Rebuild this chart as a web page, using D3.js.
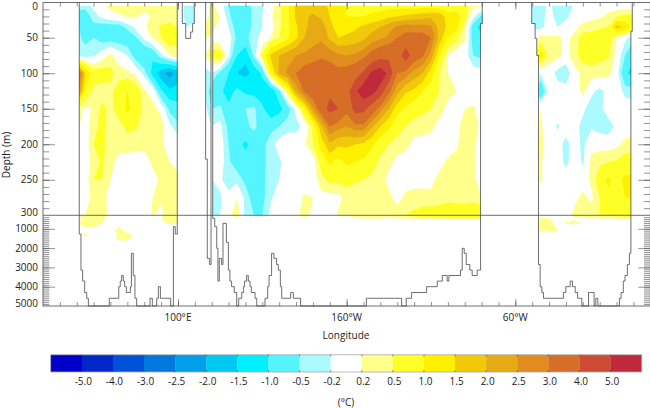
<!DOCTYPE html>
<html><head><meta charset="utf-8">
<script src="https://cdn.jsdelivr.net/npm/d3@7"></script>
<style>html,body{margin:0;padding:0;background:#fff}svg{display:block}text{font-family:"Open Sans",sans-serif;fill:#222}</style>
</head><body><div id="c"></div>
<script>
const lons = [40,45,50,55,60,65,70,75,80,85,90,95,100,105,110,115,120,125,130,135,140,145,150,155,160,165,170,175,180,185,190,195,200,205,210,215,220,225,230,235,240,245,250,255,260,265,270,275,280,285,290,295,300,305,310,315,320,325,330,335,340,345,350,355,360,365,370];
const depths = [5,20,35,50,75,100,125,150,175,200,225,250,275,300,500,700,900,1100,1300,1500,1700,2000];
const t5 = [-.4,-.4,-.1,.15,.3,.35,.35,.35,.35,.35,.4,.4,.4, -.45,-.3,0, .3,0,-.5,-.8,-.7,-.4,-.25,.1,.4,.9,1.6,1.9,1.7,1.7, 1.4,1.2,.95,.9,.8,.8,.8,.8,.8,.8,.75,.8,.8,.7,.7,.7,.6,.3,.2, .2,0,0,0,-.3, -.3,-.4,-.1,-.4,-.4,-.15,0,-.05,0,0,0,0,0];
const t20 = [-.6,-.7,-.35,-.1,.05,.15,.25,.25,.1,.25,.35,.35,.3, -.45,-.3,0, .3,.2,-.4,-.8,-.75,-.4,-.2,.15,.4,.9,1.6,1.9,2.1,1.9, 1.5,1.2,1,1,1,1.1,1.2,1.4,1.5,1.6,1.7,1.8,1.9,1.9,1.2,1.3,.7,-.1,-.6, -.6,0,0,0,-.3, -.3,-.35,-.05,-.35,-.3,0,.05,.1,.15,.3,.5,.6,.6];
const t35 = [-.4,-.7,-.6,-.7,-.7,-.7,-.4,-.1,.15,.35,.55,.6,.5, -.2,-.1,.3, .4,-.05,-.2,-.7,-.7,-.4,-.2,.1,.4,.9,1.4,1.9,2.2,2.3, 1.7,1.2,1.3,1.4,1.6,1.8,2,2.3,2.6,2.8,2.7,2.7,2.6,1.8,1.4,1.2,.35,-.7,-1.3, -1.3,0,0,0,-.3, -.3,-.3,-.05,-.2,0,.1,.3,.35,.4,.5,1.7,1.4,.8];
const t50 = [-.4,-.6,-.5,-.7,-.7,-.75,-.8,-.55,-.1,.25,.5,.75,.6, 0,0,.3, .1,-.1,0,-.6,-.6,-.3,-.1,.2,.5,.9,1.4,2,2.3,2.4, 1.9,1.5,1.6,1.7,1.9,2.2,2.4,2.6,3,3.2,3.3,3.3,3,1.8,1,.6,.25,-.7,-.9, -.9,0,0,0,0, 0,.3,.25,.3,.1,.3,.7,.7,1,.75,.2,-.1,-.4];
const t75 = [-.3,-.35,-.25,0,.3,0,-.2,-.7,-1,-.9,-.3,.2,.4, 0,0,0, .7,.8,-.1,-1,-1.4,-.4,.6,1.6,2,2.3,2.5,2.6,2.7,2.9, 2.8,2.6,2.5,2.6,2.8,3.3,3.6,3.7,3.4,4.6,3.4,3.1,2.3,1,.2,0,0,-.5,-.6, -.6,0,0,0,0, 0,1.3,.35,.3,.1,.35,.7,.7,.6,.55,.1,-.5,-.9];
const t100 = [4,1.5,.7,.7,.6,.35,.3,.1,-.3,-1.2,-1.8,-2.2,-1.8, 0,0,-.3, -.2,-.6,-1,-1.5,-1.6,-1.4,-.9,.9,2.1,2.6,3,3.3,3.5,3.5, 3.4,3.2,3.3,3.5,4.2,5.2,5.6,4.8,3,2.8,2.3,2,1.2,.5,.2,0,0,0,-.05, -.05,0,0,0,0, 0,-.2,.05,-.35,-.5,.1,.25,.35,.35,.3,0,-.9,-1.2];
const t125 = [3,1,.4,.35,.4,.7,1,.8,.25,.05,-.9,-1.4,-1.3, 0,0,0, -.8,-.9,-1.2,-.9,-1.1,-1.2,-1.3,-1.4,-.6,.6,2.2,3.1,3.6,3.8, 3.8,3.6,3.6,4.8,5.6,5.4,4.6,3.2,2.2,1.6,1.4,1,.8,.5,.3,.2,0,0,0, 0,0,0,0,0, 0,-1,0,0,0,0,.3,-.1,-.3,-.1,0,-.3,-.4];
const t150 = [.5,.1,.25,.6,.4,.7,1.1,.8,.4,.3,.1,-.6,-.8, 0,0,0, -.5,-.4,-.9,-.7,-.5,-.4,-.9,-1.4,-1.2,-.7,-.1,1,2.4,3.5, 4.3,4,3.2,4.4,4.3,3.5,2.7,2,1.2,.9,.7,.6,.5,.35,.1,.1,.2,.25,.05, .05,0,0,0,0, 0,.2,0,0,0,0,-.1,-.4,-.3,0,0,0,0];
const t175 = [.3,0,.4,.6,.35,.35,.6,.55,.35,.45,.35,-.1,-.4, 0,0,.2, -.2,-.1,-.6,-.9,-.6,-.4,-.7,-.6,-.5,-.3,-.3,-.1,.6,1.9, 3,2.7,2.5,2.8,2.8,2.1,1.5,1.1,.7,.5,.35,.3,.3,.05,.05,.1,.35,.35,.1, .1,0,0,0,0, 0,.25,0,-.25,0,0,-.35,-.25,-.35,-.4,-.1,0,0];
const t200 = [.25,0,.5,.6,.35,.3,.35,.3,.3,.35,.25,.1,0, 0,0,.25, 0,0,-.5,-.8,-1.1,-.8,-.6,-.35,-.05,0,0,.15,.5,1.2, 1.9,1.6,1.6,1.5,1.4,1.1,.7,.5,.35,.3,.1,.1,0,0,.05,.15,.35,.35,-.1, -.1,0,0,0,0, 0,.3,0,0,-.35,0,-.3,.1,.05,.05,.1,.3,.35];
const t225 = [0,0,.35,.55,.3,.1,.05,.05,.05,.25,.3,.2,.1, 0,0,0, -.1,0,-.45,-.7,-.8,-.7,-.6,-.35,-.25,-.05,0,.1,0,.7, 1.1,.8,1.1,1,.9,.7,.4,.3,.1,.05,.05,0,0,.1,.25,.3,.3,.3,-.2, -.2,0,0,0,0, 0,.25,0,0,-.3,0,-.25,.3,.45,.5,.55,.7,.7];
const t250 = [0,0,.5,.5,.2,0,0,0,0,.1,.25,.2,.3, 0,0,0, -.2,-.1,-.5,-.3,-.6,-.7,-.6,-.3,-.2,0,0,0,0,.4, .6,.6,.65,.55,.5,.4,.35,.1,0,0,.1,.1,.1,.3,.3,.3,.3,.35,-.1, -.1,0,0,0,0, 0,.25,0,0,0,0,0,.3,.7,1.1,.8,1.1,1.1];
const t275 = [.05,.05,.3,.3,.1,0,0,0,0,.2,.25,.45,.3, 0,0,0, -.2,-.25,0,.2,-.3,-.7,-.6,-.25,0,0,.05,.25,.2,.1, .05,.1,.3,.3,.25,.25,.3,.3,.05,.3,.3,.3,.3,.3,.35,.3,.3,.35,.2, .2,0,0,0,0, 0,0,0,0,0,.1,.3,.1,.5,.9,.8,1,1];
const t300 = [.2,.2,.4,.35,.1,0,0,0,0,.25,.1,.5,.5, 0,0,0, -.25,-.2,.1,.4,-.3,-.5,-.5,-.1,0,0,.1,.35,.1,.1, 0,.25,.2,.4,.45,.5,.5,.25,.4,.5,.6,.7,.7,.8,.9,.9,.9,.9,.9, .9,0,0,0,0, .1,.1,0,0,0,.3,.3,.45,.5,.5,.6,.7,.7];
const t500 = [.1,.25,.35,.3,0,0,0,0,0,0,.2,.4,.4, 0,0,0, 0,0,0,0,0,0,0,0,0,0,0,0,0,0, 0,0,0,.1,.15,.15,.15,.15,.15,.15,.15,.15,.15,.15,.15,.15,.15,.15,.15, .15,0,0,0,0, 0,.3,.25,.05,.1,.15,.15,.15,.15,.15,.15,.15,.15];
const t700 = [.2,.35,.35,.2,0,0,0,0,0,0,0,.3,.3, 0,0,0, 0,0,0,0,0,0,0,0,0,0,0,0,0,0, 0,0,0,0,0,0,0,0,0,0,0,0,0,0,0,0,0,0,0, 0,0,0,0,0, 0,.35,.3,.1,.25,.3,.2,0,0,0,0,0,0];
const t900 = [0,.2,.25,0,0,.2,.1,0,0,0,0,0,0, 0,0,0, 0,0,0,0,0,0,0,0,0,0,0,0,0,0, 0,0,0,0,0,0,0,0,0,0,0,0,0,0,0,0,0,0,0, 0,0,0,0,0, 0,.35,.35,.15,0,0,0,0,0,0,0,0,0];
const t1100 = [0,0,0,0,.1,.3,.1,0,0,0,0,0,0, 0,0,0, 0,0,0,0,0,0,0,0,0,0,0,0,0,0, 0,0,0,0,0,0,0,0,0,0,0,0,0,0,0,0,0,0,0, 0,0,0,0,0, 0,.3,.25,.2,0,0,0,0,0,0,0,0,0];
const t1300 = [0,.3,0,0,0,.25,.3,.1,0,0,0,0,0, 0,0,0, 0,0,0,0,0,0,0,0,0,0,0,0,0,0, 0,0,0,0,0,0,0,0,0,0,0,0,0,0,0,0,0,0,0, 0,0,0,0,0, 0,0,0,0,0,0,0,0,0,0,0,0,0];
const t1500 = [0,0,0,0,0,.3,.3,0,0,0,0,0,0, 0,0,0, 0,0,0,0,0,0,0,0,0,0,0,0,0,0, 0,0,0,0,0,0,0,0,0,0,0,0,0,0,0,0,0,0,0, 0,0,0,0,0, 0,0,0,0,0,0,0,0,0,0,0,0,0];
const t1700 = [0,0,0,0,0,.1,.1,0,0,0,0,0,0, 0,0,0, 0,0,0,0,0,0,0,0,0,0,0,0,0,0, 0,0,0,0,0,0,0,0,0,0,0,0,0,0,0,0,0,0,0, 0,0,0,0,0, 0,0,0,0,0,0,0,0,0,0,0,0,0];
const t2000 = [0,0,0,0,0,0,0,0,0,0,0,0,0, 0,0,0, 0,0,0,0,0,0,0,0,0,0,0,0,0,0, 0,0,0,0,0,0,0,0,0,0,0,0,0,0,0,0,0,0,0, 0,0,0,0,0, 0,0,0,0,0,0,0,0,0,0,0,0,0];
const rows = [t5,t20,t35,t50,t75,t100,t125,t150,t175,t200,t225,t250,t275,t300,t500,t700,t900,t1100,t1300,t1500,t1700,t2000];

const warmLevels = [.2,.5,1,1.5,2,2.5,3,4,5];
const warmColors = ["#ffff8c","#ffff28","#fff000","#f2c80a","#e6aa14","#e08c1e","#d66e28","#cc4b32","#c0283c"];
const coolLevels = [.2,.5,1,1.5,2,2.5,3,4,5];
const coolColors = ["#aafaff","#55f5ff","#00f0ff","#00c8f0","#00a0e8","#0078dc","#0050d8","#0028c8","#0000c8"];
const legendLabels = ["-5.0","-4.0","-3.0","-2.5","-2.0","-1.5","-1.0","-0.5","-0.2","0.2","0.5","1.0","1.5","2.0","2.5","3.0","4.0","5.0"];
const legendColors = coolColors.slice().reverse().concat(["#ffffff"],warmColors);

const basinA = [[41.5,0],[41.5,1270],[42.5,1270],[42.5,3140],[43.5,3140],[43.5,3710],[44.7,3710],[44.7,4300],[45.9,4300],[45.9,4600],[46.9,4600],[46.9,5000],[59.3,5000],[59.3,4600],[64.9,4600],[64.9,4000],[65.8,4000],[65.8,3710],[66.6,3710],[66.6,3420],[67.6,3420],[67.6,3710],[68.4,3710],[68.4,4000],[69.4,4000],[69.4,4300],[71.8,4300],[71.8,4000],[72.4,4000],[72.4,2270],[73.5,2270],[73.5,3420],[74.5,3420],[74.5,4600],[75.5,4600],[75.5,5000],[83.4,5000],[83.4,4600],[84.8,4600],[84.8,5000],[87.4,5000],[87.4,4600],[88.4,4600],[88.4,4000],[89.6,4000],[89.6,4600],[95.7,4600],[95.7,5000],[97.3,5000],[97.3,890],[98.4,890],[98.4,1270],[99.6,1270],[99.6,0]];
const basinB = [[102.6,0],[102.6,30],[104.6,30],[104.6,51],[107.5,51],[107.5,42],[108.7,42],[108.7,30],[109.7,30],[109.7,0]];
const basinC = [[116.4,0],[116.4,221],[117.4,221],[117.4,2530],[118.8,2530],[118.8,2850],[119.6,2850],[119.6,0]];
const basinD = [[120.6,0],[120.6,460],[121.8,460],[121.8,890],[123,890],[123,2010],[123.7,2010],[123.7,3710],[124.5,3710],[124.5,2530],[125.9,2530],[125.9,2850],[126.7,2850],[126.7,720],[128.7,720],[128.7,1700],[129.9,1700],[129.9,3140],[130.8,3140],[130.8,3710],[131.8,3710],[131.8,4000],[133.4,4000],[133.4,4300],[134.8,4300],[134.8,5000],[136,5000],[136,4600],[137.8,4600],[137.8,4300],[138.8,4300],[138.8,4000],[139.5,4000],[139.5,3710],[140.7,3710],[140.7,3420],[141.7,3420],[141.7,3710],[142.7,3710],[142.7,4000],[143.5,4000],[143.5,4300],[145.7,4300],[145.7,4600],[146.7,4600],[146.7,5000],[151.6,5000],[151.6,4600],[153.2,4600],[153.2,4000],[154,4000],[154,3420],[155.5,3420],[155.5,2270],[156.9,2270],[156.9,2530],[158.5,2530],[158.5,2850],[159.5,2850],[159.5,3140],[160.7,3140],[160.7,4000],[161.5,4000],[161.5,4600],[166.8,4600],[166.8,4300],[168.4,4300],[168.4,4600],[172.7,4600],[172.7,5000],[211.7,5000],[211.7,4600],[232.6,4600],[232.6,5000],[235.3,5000],[235.3,4600],[238.5,4600],[238.5,4300],[247.4,4300],[247.4,4000],[253.7,4000],[253.7,3710],[256.7,3710],[256.7,3420],[259.6,3420],[259.6,3710],[260.6,3710],[260.6,3420],[267.5,3420],[267.5,3140],[268.5,3140],[268.5,2010],[269.7,2010],[269.7,2270],[270.9,2270],[270.9,2850],[273,2850],[273,3140],[274.4,3140],[274.4,3420],[277.4,3420],[277.4,3140],[279.4,3140],[279.4,30],[280.4,30],[280.4,0]];
const basinE = [[309.7,0],[309.7,30],[311.7,30],[311.7,51],[312.7,51],[312.7,75],[313.7,75],[313.7,2850],[314.7,2850],[314.7,4000],[315.7,4000],[315.7,4300],[316.7,4300],[316.7,4600],[328.5,4600],[328.5,4300],[329.9,4300],[329.9,4000],[332.5,4000],[332.5,3710],[333.9,3710],[333.9,4000],[335.5,4000],[335.5,4300],[336.9,4300],[336.9,4600],[339.4,4600],[339.4,5000],[343.4,5000],[343.4,4300],[346.7,4300],[346.7,5000],[347.7,5000],[347.7,4600],[348.9,4600],[348.9,5000],[361.7,5000],[361.7,4600],[362.7,4600],[362.7,4300],[364,4300],[364,3710],[365,3710],[365,3420],[366.4,3420],[366.4,2850],[367.6,2850],[367.6,2270],[368.5,2270],[368.5,41],[369.3,41],[369.3,0]];
const basins = [basinA,basinB,basinC,basinD,basinE];

const lonTickMinor = d3.range(30,380,10);
const lonTickMajor = [100,200,300];
const lonTickLabels = ["100°E","160°W","60°W"];
const depthMinor = d3.range(10,300,10);
const depthMajor = [50,100,150,200,250];
const deepMinor = d3.range(400,5000,100);
const deepMajor = [1000,2000,3000,4000];
const depthLabels = [0,50,100,150,200,250,300,1000,2000,3000,4000,5000];

rows.forEach((r,i)=>{ if(r.length!==lons.length) throw new Error("row "+depths[i]+" has "+r.length); });

const W=650,H=408;
const x = d3.scaleLinear().domain([20,380]).range([43,650.3]);
const y = d3.scaleLinear().domain([0,300,5000]).range([2.2,215.3,306]);
const ix = d3.scaleLinear().domain(lons.map((d,i)=>i+.5)).range(lons).clamp(true);
const iy = d3.scaleLinear().domain(depths.map((d,i)=>i+.5)).range(depths).clamp(true);

const svg = d3.select("#c").append("svg").attr("width",W).attr("height",H);
const defs = svg.append("defs");
const line = d3.line().x(d=>x(d[0])).y(d=>y(d[1]));
defs.append("clipPath").attr("id","ocean").selectAll("path").data(basins).join("path").attr("d",d=>line(d)+"Z");
defs.append("clipPath").attr("id","upper").append("rect").attr("x",0).attr("y",0).attr("width",W).attr("height",y(300));

const flat = rows.flat();
const n = lons.length, m = depths.length;
const proj = d3.geoTransform({point(px,py){ this.stream.point(x(ix(px)), y(iy(py))); }});
const geo = d3.geoPath(proj);
const oceanG = svg.append("g").attr("clip-path","url(#ocean)");
const warm = d3.contours().size([n,m]).thresholds(warmLevels)(flat);
oceanG.append("g").selectAll("path").data(warm).join("path").attr("d",geo).attr("fill",(d,i)=>warmColors[i]);
const cool = d3.contours().size([n,m]).thresholds(coolLevels)(flat.map(v=>-v));
oceanG.append("g").attr("clip-path","url(#upper)").selectAll("path").data(cool).join("path").attr("d",geo).attr("fill",(d,i)=>coolColors[i]);

const ink="#4a4a4a";
svg.append("g").selectAll("path").data(basins).join("path").attr("d",line).attr("fill","none").attr("stroke",ink).attr("stroke-width",.8);

// frame
const frame = svg.append("g");
frame.append("rect").attr("x",x(20)).attr("y",y(0)+.4).attr("width",x(380)-x(20)).attr("height",y(5000)-y(0)-.4).attr("fill","none").attr("stroke",ink).attr("stroke-width",.8);
frame.append("line").attr("x1",x(20)).attr("x2",x(380)).attr("y1",y(300)).attr("y2",y(300)).attr("stroke",ink).attr("stroke-width",.8);

function axisStyle(g){ g.select(".domain").remove(); g.selectAll("line").attr("stroke",ink).attr("stroke-width",.6); g.selectAll("text").remove(); }
const xb=()=>d3.axisBottom(x).tickFormat("");
svg.append("g").attr("transform",`translate(0,${y(5000)})`).call(xb().tickValues(lonTickMinor).tickSize(-4)).call(axisStyle);
svg.append("g").attr("transform",`translate(0,${y(5000)})`).call(xb().tickValues(lonTickMajor).tickSize(-7)).call(axisStyle);
svg.append("g").attr("transform",`translate(0,${y(0)+.4})`).call(xb().tickValues(lonTickMinor).tickSize(4)).call(axisStyle);
svg.append("g").attr("transform",`translate(0,${y(0)+.4})`).call(xb().tickValues(lonTickMajor).tickSize(7)).call(axisStyle);
const L=[[depthMinor,6.3],[depthMajor,12],[deepMinor,6.3],[deepMajor,12]];
L.forEach(([vals,s])=>{
  svg.append("g").attr("transform",`translate(${x(20)},0)`).call(d3.axisRight(y).tickValues(vals).tickSize(s).tickFormat("")).call(axisStyle);
  svg.append("g").attr("transform",`translate(${x(380)},0)`).call(d3.axisLeft(y).tickValues(vals).tickSize(s).tickFormat("")).call(axisStyle);
});

// labels
const fs=10;
svg.append("g").selectAll("text").data(depthLabels).join("text")
  .attr("x",38).attr("y",d=>y(d)+(d===0?4:(d===300||d===5000)?-3:0)).attr("dy","0.35em").attr("text-anchor","end").attr("font-size",fs).text(d=>d);
svg.append("g").selectAll("text").data(lonTickMajor).join("text")
  .attr("x",d=>x(d)).attr("y",317).attr("dy","0.35em").attr("text-anchor","middle").attr("font-size",fs).text((d,i)=>lonTickLabels[i]);
svg.append("text").attr("x",346).attr("y",335).attr("dy","0.35em").attr("text-anchor","middle").attr("font-size",fs).text("Longitude");
svg.append("text").attr("transform","translate(6,155) rotate(-90)").attr("dy","0.35em").attr("text-anchor","middle").attr("font-size",fs).text("Depth (m)");
svg.append("text").attr("x",346).attr("y",402).attr("dy","0.35em").attr("text-anchor","middle").attr("font-size",fs).text("(°C)");

// legend
const lx = d3.scaleLinear().domain([0,19]).range([50.7,641.7]);
const lg = svg.append("g");
lg.selectAll("rect").data(legendColors).join("rect").attr("x",(d,i)=>lx(i)).attr("y",354.8).attr("width",(d,i)=>lx(i+1)-lx(i)+.2).attr("height",17.2).attr("fill",d=>d);
lg.append("rect").attr("x",lx(0)).attr("y",354.8).attr("width",lx(19)-lx(0)).attr("height",17.2).attr("fill","none").attr("stroke","#aaa").attr("stroke-width",.8);
lg.selectAll("path").data(legendLabels).join("path").attr("d",(d,i)=>`M${lx(i+1)},354.8v1.6M${lx(i+1)},372v-1.6`).attr("stroke","#333").attr("stroke-width",.6);
lg.selectAll("text").data(legendLabels).join("text").attr("x",(d,i)=>lx(i+1)+1.5).attr("y",381).attr("dy","0.35em").attr("text-anchor","middle").attr("font-size",fs).text(d=>d);
</script></body></html>
